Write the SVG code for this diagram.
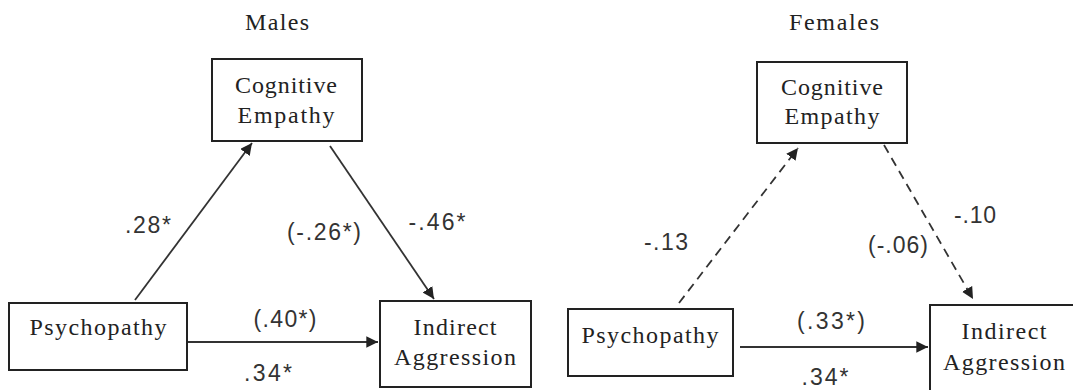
<svg xmlns="http://www.w3.org/2000/svg" width="1073" height="390" viewBox="0 0 1073 390">
<style>
.box{fill:#fff;stroke:#222;stroke-width:2}
.lbl{font-family:"Liberation Serif",serif;font-size:24px;fill:#222;text-anchor:middle}
.num{font-family:"Liberation Sans",Arial,sans-serif;font-size:23px;fill:#333;text-anchor:middle}
.ln{stroke:#333;stroke-width:1.8;fill:none}
.dash{stroke-dasharray:9 6}
</style>
<defs>
<marker id="ah" viewBox="0 0 10 10" refX="10" refY="5" markerWidth="6.5" markerHeight="6.5" markerUnits="strokeWidth" orient="auto">
<path d="M0,0 L10,5 L0,10 z" fill="#222"/>
</marker>
</defs>
<rect width="1073" height="390" fill="#fff"/>
<text class="lbl" x="277" y="30" textLength="64" lengthAdjust="spacing">Males</text>
<text class="lbl" x="834" y="30" textLength="90" lengthAdjust="spacing">Females</text>

<g id="connectors">
<line class="ln" x1="135" y1="300" x2="252" y2="143" marker-end="url(#ah)"/>
<line class="ln" x1="330" y1="146" x2="434" y2="299" marker-end="url(#ah)"/>
<line class="ln" x1="188" y1="342" x2="378" y2="342" marker-end="url(#ah)"/>
<line class="ln dash" x1="679" y1="303" x2="798" y2="148" marker-end="url(#ah)"/>
<line class="ln dash" x1="884" y1="145" x2="973" y2="299" marker-end="url(#ah)"/>
<line class="ln" x1="740" y1="347" x2="928" y2="347" marker-end="url(#ah)"/>
</g>

<g id="m-cog">
<rect class="box" x="212" y="59" width="150" height="82"/>
<text class="lbl" x="286" y="93" textLength="102" lengthAdjust="spacing">Cognitive</text>
<text class="lbl" x="286" y="123" textLength="97" lengthAdjust="spacing">Empathy</text>
</g>
<g id="m-psy">
<rect class="box" x="9" y="303" width="178" height="67"/>
<text class="lbl" x="98" y="335" textLength="137" lengthAdjust="spacing">Psychopathy</text>
</g>
<g id="m-ia">
<rect class="box" x="380" y="301" width="151" height="86"/>
<text class="lbl" x="455" y="335" textLength="83" lengthAdjust="spacing">Indirect</text>
<text class="lbl" x="455" y="365" textLength="122" lengthAdjust="spacing">Aggression</text>
</g>

<g id="f-cog">
<rect class="box" x="757" y="62" width="150" height="81"/>
<text class="lbl" x="832" y="95" textLength="102" lengthAdjust="spacing">Cognitive</text>
<text class="lbl" x="832" y="124" textLength="95" lengthAdjust="spacing">Empathy</text>
</g>
<g id="f-psy">
<rect class="box" x="568" y="309" width="165" height="67"/>
<text class="lbl" x="650" y="343" textLength="137" lengthAdjust="spacing">Psychopathy</text>
</g>
<g id="f-ia">
<rect class="box" x="930" y="305" width="150" height="95"/>
<text class="lbl" x="1004" y="339" textLength="85" lengthAdjust="spacing">Indirect</text>
<text class="lbl" x="1004" y="370" textLength="122" lengthAdjust="spacing">Aggression</text>
</g>

<g id="labels">
<text class="num" x="148" y="233" textLength="46" lengthAdjust="spacing">.28*</text>
<text class="num" x="324" y="240" textLength="74" lengthAdjust="spacing">(-.26*)</text>
<text class="num" x="437" y="230" textLength="57" lengthAdjust="spacing">-.46*</text>
<text class="num" x="285" y="327" textLength="63" lengthAdjust="spacing">(.40*)</text>
<text class="num" x="268" y="381" textLength="48" lengthAdjust="spacing">.34*</text>
<text class="num" x="666" y="250" textLength="44" lengthAdjust="spacing">-.13</text>
<text class="num" x="898" y="253" textLength="60" lengthAdjust="spacing">(-.06)</text>
<text class="num" x="975" y="223" textLength="42" lengthAdjust="spacing">-.10</text>
<text class="num" x="831" y="329" textLength="68" lengthAdjust="spacing">(.33*)</text>
<text class="num" x="825" y="385" textLength="47" lengthAdjust="spacing">.34*</text>
</g>
</svg>
